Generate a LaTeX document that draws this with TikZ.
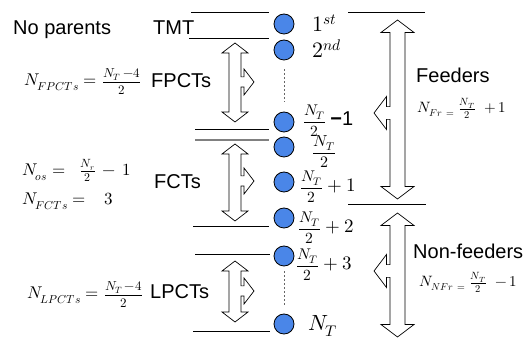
\documentclass[tikz,border=0pt]{standalone}
\usepackage{amsmath}
\usepackage{fontspec}
\usepackage{unicode-math}
\setmathfont{Latin Modern Math}
\newfontfamily\arial{Liberation Sans}
\definecolor{dotblue}{RGB}{74,134,232}
\newcommand\myblockarrow[9]{%
 \draw[barrow] (#1,#2) -- ({#1+(#5)*(#7)},{#2+#8}) -- ({#1+(#5)*(#6)},{#2+#8})
  -- ({#1+(#5)*(#6)},{#4-0.85*(#6)}) -- ({#1+(#5)*(#9)},{#4-0.85*(#6)})
  -- ({#1+(#5)*(#9)},{#4-(#7)}) -- ({#1+(#5)*(#9+#8)},{#4})
  -- ({#1+(#5)*(#9)},{#4+(#7)}) -- ({#1+(#5)*(#9)},{#4+0.85*(#6)})
  -- ({#1+(#5)*(#6)},{#4+0.85*(#6)}) -- ({#1+(#5)*(#6)},{#3-(#8)})
  -- ({#1+(#5)*(#7)},{#3-(#8)}) -- (#1,#3) -- ({#1-(#5)*(#7)},{#3-(#8)})
  -- ({#1-(#5)*(#6)},{#3-(#8)}) -- ({#1-(#5)*(#6)},{#2+#8})
  -- ({#1-(#5)*(#7)},{#2+#8}) -- cycle;}
\newcommand\nfrac[1][15.5]{{\fontsize{#1}{18}\selectfont$\dfrac{N_T}{2}$}}
\newcommand\lfrac{{\fontsize{13}{16}\selectfont$\dfrac{N_T\,{-}4}{2}$}}
\newcommand\subx[2][11.5]{\hbox{\fontsize{#1}{13}\selectfont$#2$}}
\tikzset{
  bead/.style={circle, draw=black, line width=0.8pt, fill=dotblue, minimum size=20pt, inner sep=0pt},
  hline/.style={draw=black, line width=0.9pt},
  gline/.style={draw=gray, line width=1.2pt},
  dots/.style={draw=gray!80!black, line width=1pt, dash pattern=on 2pt off 2pt},
  barrow/.style={draw=black, fill=white, line width=0.7pt, line join=miter},
  sans/.style={font=\arial\fontsize{20}{24}\selectfont, anchor=base west, inner sep=0pt},
  eq/.style={font=\fontsize{17}{20}\selectfont, anchor=base west, inner sep=0pt},
  eqs/.style={font=\fontsize{15}{18}\selectfont, anchor=base west, inner sep=0pt},
  lab/.style={font=\fontsize{19}{22}\selectfont, anchor=base west, inner sep=0pt},
  big/.style={font=\fontsize{22}{26}\selectfont, anchor=base west, inner sep=0pt},
}
\begin{document}
\begin{tikzpicture}[x=1pt,y=-1pt]
\useasboundingbox (0,0) rectangle (530,344);
% horizontal rules
\draw[hline] (191,12) -- (269,12);
\draw[hline] (189,38) -- (269,38);
\draw[hline] (195,129) -- (269,129);
\draw[gline] (195,140) -- (269,140);
\draw[hline] (193,226) -- (269,226);
\draw[hline] (195,254) -- (270,254);
\draw[hline] (193,331) -- (270,331);
\draw[hline] (348,12) -- (425,12);
\draw[hline] (348,204) -- (426,204);
% block arrows
\myblockarrow{235}{43}{122}{82}{1}{6}{13}{10}{9}
\myblockarrow{235}{144}{221}{181}{1}{6}{13}{10}{9}
\myblockarrow{235}{261}{322}{291}{1}{6}{13}{10}{9}
\myblockarrow{397.5}{20}{199}{113}{-1}{7.5}{16.5}{12.5}{11}
\myblockarrow{397.5}{213}{337}{271}{-1}{7.5}{16.5}{12.5}{11}
% beads
\node[bead] (n1) at (284,24) {};
\node[bead] (n2) at (284,50) {};
\node[bead] (n3) at (284,122) {};
\node[bead] (n4) at (284,147) {};
\node[bead] (n5) at (284,182) {};
\node[bead] (n6) at (284,218) {};
\node[bead] (n7) at (284,256) {};
\node[bead] (n8) at (284,324) {};
\draw[dots, shorten <=9pt, shorten >=10pt] (n2) -- (n3);
\draw[dots, shorten <=5pt, shorten >=7pt] (n7) -- (n8);
% bead labels
\node[big] (l1) at (312,32) {$1^{st}$};
\node[big] (l2) at (312,58) {$2^{nd}$};
\node[lab] (l3) at (303,126) {\nfrac\hspace{4pt}{\arial\fontsize{20}{24}\selectfont{\bfseries −}1}};
\node[lab] (l4) at (312,157) {\nfrac[16]};
\node[lab] (l5) at (300,192) {\nfrac${}+1$};
\node[lab] (l6) at (298,233) {\nfrac${}+2$};
\node[lab] (l7) at (296,270) {\nfrac${}+3$};
\node[big] (l8) at (308,331) {$N_T$};
% left texts
\node[sans] (np) at (13,35) {No parents};
\node[sans] (tmt) at (153,35) {TMT};
\node[sans] (fpct) at (151,88) {FPCTs};
\node[sans] (fct) at (154,189) {FCTs};
\node[sans] (lpct) at (150,299) {LPCTs};
\node[sans] (fd) at (416,83) {Feeders};
\node[sans] (nfd) at (413,259) {Non-feeders};
% formulas
\node[eq] (e1) at (24,86) {$N_{\subx{FPCTs}} =$\hspace{5pt}\lfrac};
\node[eq] (e2) at (22,176) {$N_{\subx{os}} =\;\; \frac{N_r}{2} \,-\, 1$};
\node[eq] (e3) at (22,205) {$N_{\subx{FCTs}} = \;\;\;3$};
\node[eq] (e4) at (27,299) {$N_{\subx{LPCTs}} =$\hspace{5pt}\lfrac};
\node[eqs] (e5) at (417,113) {$N_{\subx[10]{Fr\,=}}\;\frac{N_T}{2}\;\;{+}\,1$};
\node[eqs] (e6) at (419,287) {$N_{\subx[10]{NFr\,=}}\;\frac{N_T}{2}\;\;{-}\,1$};
\end{tikzpicture}
\end{document}
